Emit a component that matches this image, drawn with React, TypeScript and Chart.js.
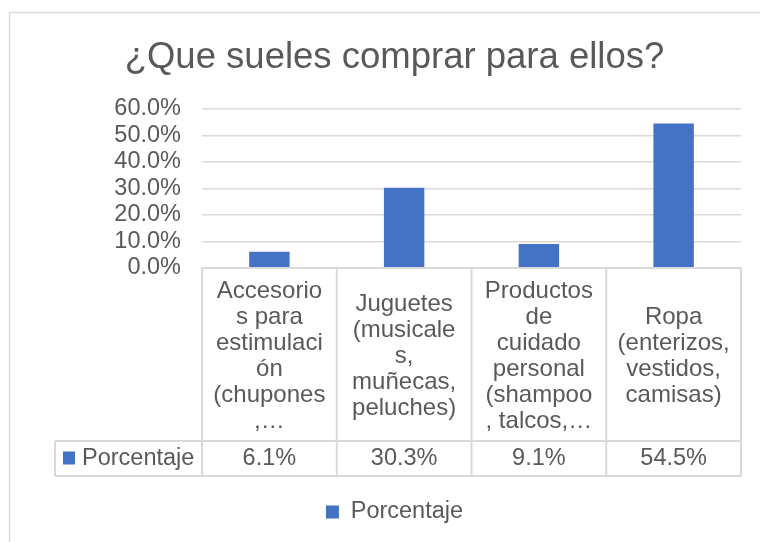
import React, { useEffect, useRef } from "react";
import { Chart, registerables } from "chart.js";

Chart.register(...registerables);

// ---- data ----
const TITLE = "¿Que sueles comprar para ellos?";
const SERIES_NAME = "Porcentaje";
const CATEGORY_LINES: string[][] = [
  ["Accesorio", "s para", "estimulaci", "ón", "(chupones", ",…"],
  ["Juguetes", "(musicale", "s,", "muñecas,", "peluches)"],
  ["Productos", "de", "cuidado", "personal", "(shampoo", ", talcos,…"],
  ["Ropa", "(enterizos,", "vestidos,", "camisas)"],
];
const VALUES = [0.061, 0.303, 0.091, 0.545];
const Y_MIN = 0;
const Y_MAX = 0.6;
const Y_STEP = 0.1;

// ---- styles ----
const TEXT = "#595959";
const GRID = "#d9d9d9";
const BAR = "#4472C4";
const FONT = "'Liberation Sans', Arial, sans-serif";
const LABEL_SIZE = 23.5;
const CELL_H = 173;
const ROW_H = 35;
const KEY_LEFT = 55;
const PAD_LEFT = 48;

const pct = (v: number) => (v * 100).toFixed(1) + "%";

const framePlugin = {
  id: "frame",
  beforeDraw(chart: any) {
    const { ctx, width, height } = chart;
    ctx.save();
    ctx.fillStyle = "#ffffff";
    ctx.fillRect(0, 0, width, height);
    ctx.strokeStyle = GRID;
    ctx.lineWidth = 1.5;
    ctx.strokeRect(9.5, 12.5, width + 40, height + 40);
    ctx.restore();
  },
};

const tablePlugin = {
  id: "dataTable",
  afterDraw(chart: any) {
    const { ctx, chartArea } = chart;
    const x = chart.scales.x;
    const n = CATEGORY_LINES.length;
    const catW = (x.right - x.left) / n;
    const top = chartArea.bottom;
    const rowTop = top + CELL_H;
    const rowBot = rowTop + ROW_H;
    ctx.save();
    ctx.strokeStyle = GRID;
    ctx.lineWidth = 2;
    ctx.beginPath();
    ctx.moveTo(x.left, top);
    ctx.lineTo(x.right, top);
    ctx.moveTo(KEY_LEFT, rowTop);
    ctx.lineTo(x.right, rowTop);
    ctx.moveTo(KEY_LEFT, rowBot);
    ctx.lineTo(x.right, rowBot);
    ctx.moveTo(KEY_LEFT, rowTop);
    ctx.lineTo(KEY_LEFT, rowBot);
    for (let i = 0; i <= n; i++) {
      const xb = i < n ? x.getPixelForValue(i) - catW / 2 : x.right;
      ctx.moveTo(xb, top);
      ctx.lineTo(xb, rowBot);
    }
    ctx.stroke();

    const midY = (rowTop + rowBot) / 2;
    ctx.fillStyle = BAR;
    ctx.fillRect(KEY_LEFT + 8, midY - 7, 12, 13);
    ctx.fillStyle = TEXT;
    ctx.font = `${LABEL_SIZE}px ${FONT}`;
    ctx.textBaseline = "middle";
    ctx.textAlign = "left";
    ctx.fillText(SERIES_NAME, KEY_LEFT + 27, midY);
    ctx.textAlign = "center";
    VALUES.forEach((v, i) => {
      ctx.fillText(pct(v), x.getPixelForValue(i), midY);
    });
    ctx.restore();
  },
};

export default function App() {
  const ref = useRef<HTMLCanvasElement | null>(null);
  useEffect(() => {
    if (!ref.current) return;
    const chart = new Chart(ref.current, {
      type: "bar",
      data: {
        labels: CATEGORY_LINES,
        datasets: [
          {
            label: SERIES_NAME,
            data: VALUES,
            backgroundColor: BAR,
            borderWidth: 0,
            barPercentage: 0.3,
            categoryPercentage: 1,
          },
        ],
      },
      options: {
        animation: false,
        responsive: false,
        devicePixelRatio: 1,
        layout: { padding: { left: PAD_LEFT, right: 19, top: 0, bottom: 8.25 } },
        plugins: {
          title: {
            display: true,
            text: TITLE,
            color: TEXT,
            font: { family: FONT, size: 36.5, weight: "normal" },
            padding: { top: 36, bottom: 29.2 },
          },
          legend: {
            display: true,
            position: "bottom",
            labels: {
              boxWidth: 13,
              boxHeight: 13,
              color: TEXT,
              font: { family: FONT, size: LABEL_SIZE },
              padding: 10,
            },
          },
          tooltip: { enabled: false },
        },
        scales: {
          y: {
            min: Y_MIN,
            max: Y_MAX,
            ticks: {
              stepSize: Y_STEP,
              autoSkip: false,
              color: TEXT,
              font: { family: FONT, size: LABEL_SIZE },
              padding: 21,
              callback: (v: any) => pct(Number(v)),
            },
            grid: { color: GRID, lineWidth: 1.5, drawTicks: false },
            border: { display: false },
            afterFit: (s: any) => {
              s.width = 202 - PAD_LEFT;
            },
          },
          x: {
            ticks: {
              color: TEXT,
              font: { family: FONT, size: 24, lineHeight: 26 / 24 },
              padding: 23,
              autoSkip: false,
              maxRotation: 0,
              minRotation: 0,
              crossAlign: "center",
            },
            grid: { display: false, drawTicks: false },
            border: { display: false },
            afterFit: (s: any) => {
              s.height = 222.25;
            },
          },
        },
      },
      plugins: [framePlugin, tablePlugin],
    } as any);
    return () => chart.destroy();
  }, []);
  return (
    <div style={{ position: "fixed", left: 0, top: 0, width: 760, height: 542 }}>
      <canvas ref={ref} width={760} height={542} style={{ display: "block" }} />
    </div>
  );
}
